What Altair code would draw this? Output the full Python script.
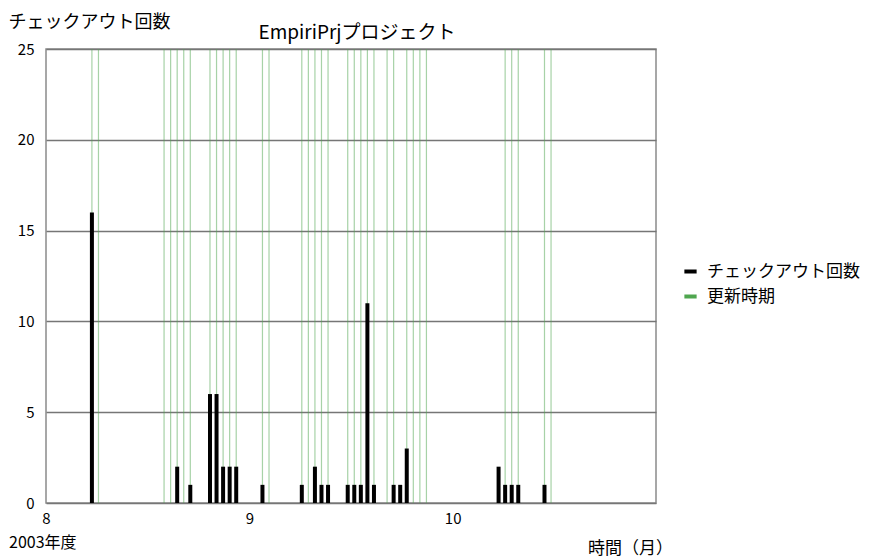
import altair as alt
import pandas as pd

# day offsets from Aug 1 (x axis: 0 = month 8, 31 = month 9, 62 = month 10)
checkout_days = [7, 20, 22, 25, 26, 27, 28, 29, 33, 39, 41, 42, 43, 46, 47, 48, 49, 50, 53, 54, 55, 69, 70, 71, 72, 76]
checkout_counts = [16, 2, 1, 6, 6, 2, 2, 2, 1, 1, 2, 1, 1, 1, 1, 1, 11, 1, 1, 1, 3, 2, 1, 1, 1, 1]
update_days = [7, 8, 18, 19, 20, 21, 22, 25, 26, 27, 28, 29, 33, 34, 39, 40, 41, 42, 43,
               46, 47, 48, 49, 50, 52, 53, 55, 56, 57, 58, 70, 71, 72, 76, 77]
month_ticks = [0, 31, 62]
month_labels = ["8", "9", "10"]
y_ticks = [0, 5, 10, 15, 20, 25]
series_names = ["チェックアウト回数", "更新時期"]
series_colors = ["#000000", "#4fa64f"]
chart_title = "EmpiriPrjプロジェクト"
year_note = "2003年度"

FONT = "Noto Sans CJK JP"

checkout_df = pd.DataFrame({"day": checkout_days, "count": checkout_counts, "series": series_names[0]})
update_df = pd.DataFrame({"day": update_days, "series": series_names[1]})

label_expr = " : ".join(
    [f"datum.value == {t} ? '{l}'" for t, l in zip(month_ticks, month_labels)]
) + " : ''"

x_scale = alt.Scale(domain=[0, 93], nice=False, zero=False)
y_scale = alt.Scale(domain=[0, 25], nice=False)
color_scale = alt.Scale(domain=series_names, range=series_colors)

x_axis = alt.Axis(values=month_ticks, labelExpr=label_expr, title="時間（月）",
                  grid=False, ticks=False, domain=False, labelFontSize=15, labelPadding=8,
                  labelFlush=False, labelColor="#000", titleFontSize=17, titleFontWeight="normal",
                  titleX=584, titleY=50, titleAlign="center", titleBaseline="alphabetic",
                  titleColor="#000", labelFont=FONT, titleFont=FONT, titleLimit=400)
y_axis = alt.Axis(values=y_ticks, title="チェックアウト回数", grid=True, gridColor="#767676",
                  gridWidth=1.5, ticks=False, domain=False, labelFontSize=15, labelPadding=12,
                  labelColor="#000", titleAngle=0, titleAlign="left", titleBaseline="middle",
                  titleX=-38, titleY=-27, titleFontSize=18, titleFontWeight="normal",
                  titleColor="#000", labelFont=FONT, titleFont=FONT, titleLimit=400)

legend = alt.Legend(title=None, orient="none", legendX=636, legendY=214,
                    symbolType="stroke", symbolStrokeWidth=4, symbolSize=150,
                    symbolOpacity=1, labelFontSize=17, labelFont=FONT, labelColor="#000",
                    rowPadding=7, padding=0, labelOffset=8, labelLimit=400)

rules = alt.Chart(update_df).mark_rule(strokeWidth=1.2, opacity=0.5).encode(
    x=alt.X("day:Q", scale=x_scale, axis=x_axis),
    color=alt.Color("series:N", scale=color_scale, legend=legend),
)

bars = alt.Chart(checkout_df).mark_rule(strokeWidth=4).encode(
    x=alt.X("day:Q", scale=x_scale, axis=x_axis),
    y=alt.Y("count:Q", scale=y_scale, axis=y_axis),
    y2=alt.datum(0),
    color=alt.Color("series:N", scale=color_scale, legend=legend),
)

note = alt.Chart(pd.DataFrame({"t": [year_note]})).mark_text(
    align="left", baseline="middle", fontSize=16, font=FONT, color="#000"
).encode(x=alt.value(-37), y=alt.value(494), text="t:N")

title = alt.Chart(pd.DataFrame({"t": [chart_title]})).mark_text(
    align="center", baseline="middle", fontSize=19, font=FONT, color="#000"
).encode(x=alt.value(311), y=alt.value(-16), text="t:N")

chart = alt.layer(rules, bars, note, title).properties(
    width=610, height=454,
    autosize=alt.AutoSizeParams(type="none"),
    padding={"left": 38, "top": 41, "right": 209, "bottom": 64},
).configure_view(stroke="#8a8a8a", strokeWidth=1.5)

chart.save("out.html", embed_options={"renderer": "svg", "actions": False})
